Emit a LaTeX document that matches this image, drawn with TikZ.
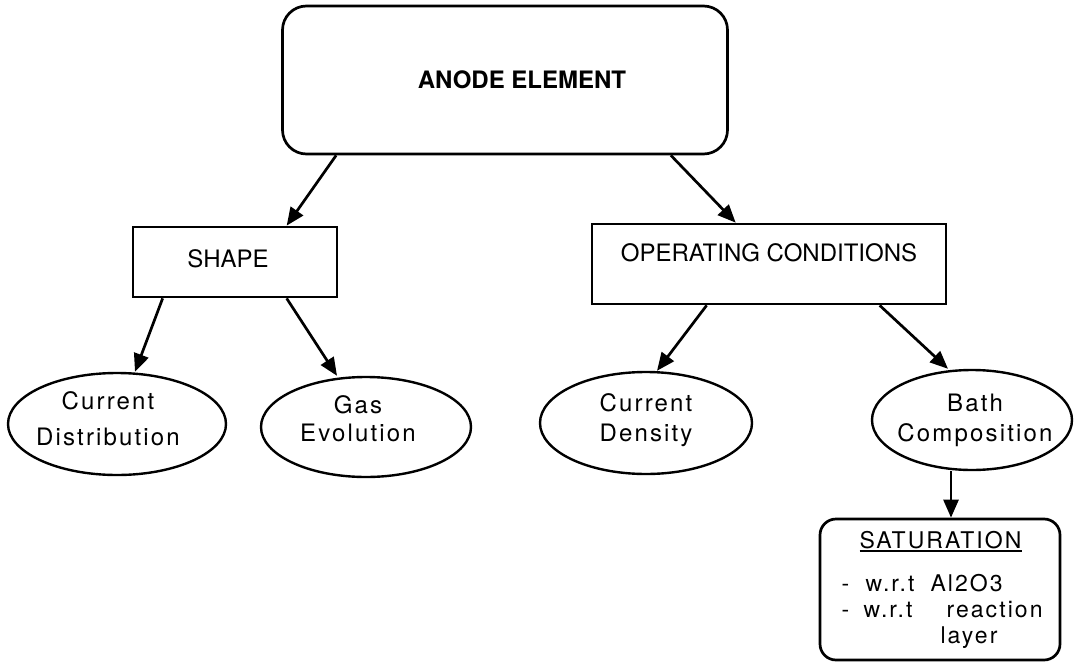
\documentclass[tikz,border=0pt]{standalone}
\usepackage{fontspec}
\setmainfont{TeX Gyre Heros}
\newfontfamily\tracked{TeX Gyre Heros}[LetterSpace=9]
\usetikzlibrary{shapes.geometric,arrows.meta,calc}
\newcommand\thickul[1]{\leavevmode\setbox0\hbox{#1}\rlap{\rule[-4pt]{\wd0}{2pt}}\box0}
\newcommand\putat[2]{\rlap{\hspace*{#1}#2}}
\begin{document}
\begin{tikzpicture}[x=1pt,y=-1pt,
  every node/.style={font=\fontsize{24}{30}\selectfont},
  boxnode/.style={draw, line width=2.7pt, rectangle, inner sep=0pt},
  ovalnode/.style={draw, line width=2.4pt, ellipse, inner sep=0pt},
  txt/.style={align=center, font=\tracked\fontsize{24}{30}\selectfont, inner sep=0pt},
  arr/.style={line width=2.7pt, -{Triangle[length=18pt,width=15pt]}}]
\useasboundingbox (0,0) rectangle (1075,663);

\node[boxnode, rounded corners=24pt, minimum width=445pt, minimum height=148pt,
  label={[name=anodeT, inner sep=0pt, font=\bfseries\fontsize{24}{30}\selectfont, xshift=17pt]center:ANODE ELEMENT}] (anode) at (505,80) {};

\node[boxnode, minimum width=204pt, minimum height=70pt,
  label={[name=shapeT, inner sep=0pt, xshift=-7pt, yshift=3pt]center:SHAPE}] (shape) at (235,262) {};

\node[boxnode, minimum width=354pt, minimum height=80pt,
  label={[name=ocT, inner sep=0pt, yshift=11pt]center:OPERATING CONDITIONS}] (oc) at (769,264) {};

\node[ovalnode, minimum width=218pt, minimum height=102pt,
  label={[txt, name=cdistT, xshift=-9pt, yshift=5pt]center:Current\\[6pt]Distribution}] (cdist) at (117,424) {};
\node[ovalnode, minimum width=210pt, minimum height=100pt,
  label={[txt, name=gasT, xshift=-8pt, yshift=8pt]center:Gas\\[-2pt]Evolution}] (gas) at (366,427) {};
\node[ovalnode, minimum width=212pt, minimum height=102pt,
  label={[txt, name=densT, yshift=3pt]center:Current\\Density}] (dens) at (646,423) {};
\node[ovalnode, minimum width=200pt, minimum height=100pt,
  label={[txt, name=bathT, xshift=3pt]center:Bath\\Composition}] (bath) at (972,420) {};

\node[boxnode, rounded corners=16pt, minimum width=240pt, minimum height=141pt,
  align=left, font=\tracked\fontsize{23}{26}\selectfont] (sat) at (940,589.5)
  {\putat{18pt}{\thickul{SATURATION}}\hspace*{197pt}\\[17pt]
   \putat{0pt}{-}\putat{24pt}{w.r.t}\putat{89pt}{Al2O3}\hspace*{197pt}\\
   \putat{0pt}{-}\putat{22pt}{w.r.t}\putat{105pt}{reaction}\hspace*{197pt}\\
   \putat{99pt}{layer}\hspace*{197pt}};

\draw[arr] ([xshift=55pt]anode.south west) -- ([xshift=155pt]shape.north west);
\draw[arr] ([xshift=-58pt]anode.south east) -- ([xshift=145pt]oc.north west);
\draw[arr] ([xshift=31pt]shape.south west) -- ([xshift=18pt]cdist.north);
\draw[arr] ([xshift=155pt]shape.south west) -- ([xshift=-29pt]gas.north);
\draw[arr] ([xshift=116pt]oc.south west) -- ([xshift=11pt]dens.north);
\draw[arr] ([xshift=289pt]oc.south west) -- ([xshift=-24pt]bath.north);
\draw[arr] ([xshift=11pt]sat.north |- bath.south) -- ([xshift=11pt]sat.north);
\end{tikzpicture}
\end{document}
